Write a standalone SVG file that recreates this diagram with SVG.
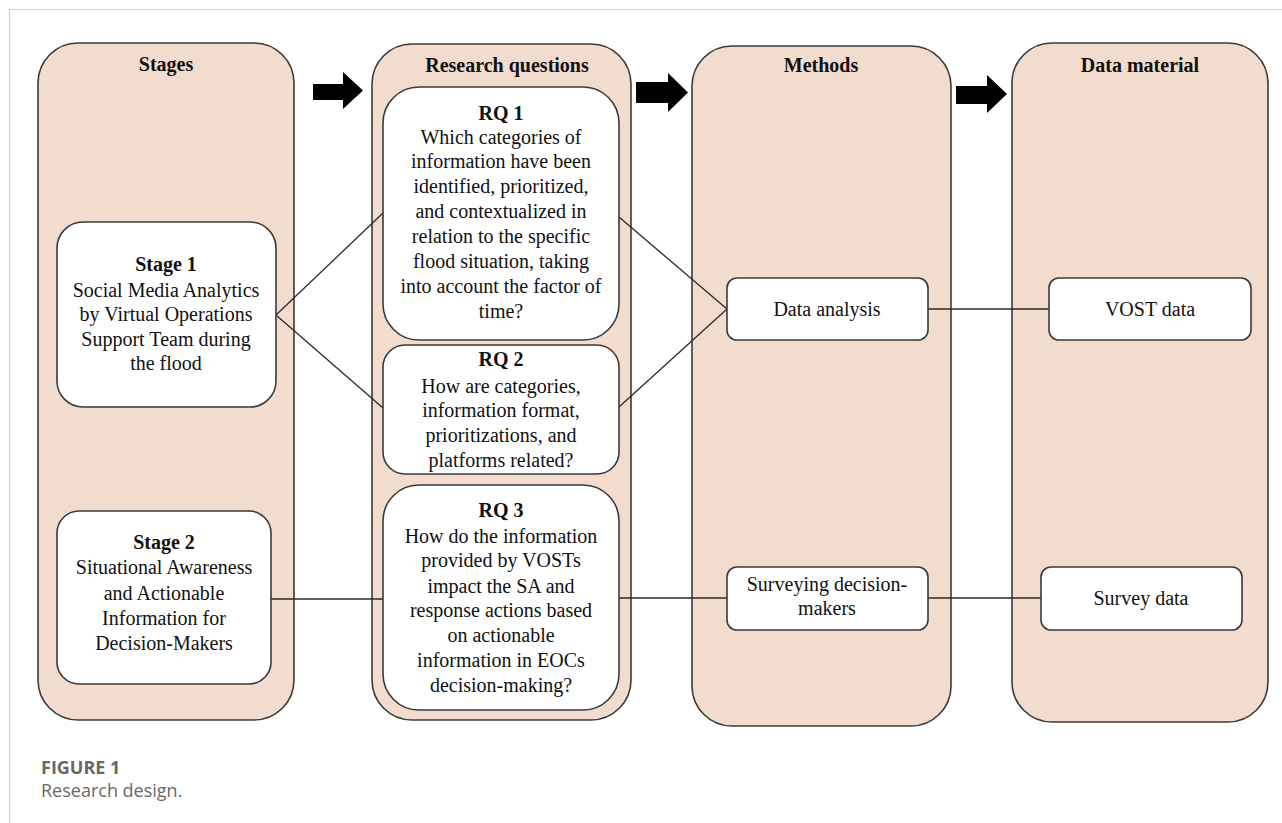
<svg xmlns="http://www.w3.org/2000/svg" width="1282" height="823" viewBox="0 0 1282 823">
  <style>
    .col { fill: #f1dccd; stroke: #3a3a3a; stroke-width: 1.6; }
    .box { fill: #ffffff; stroke: #3a3a3a; stroke-width: 1.6; }
    .link { stroke: #2a2a2a; stroke-width: 1.3; fill: none; }
    .arrow { fill: #000; }
    .t { font-family: 'Liberation Serif', 'Times New Roman', serif; font-size: 20px; fill: #111; text-anchor: middle; }
    .b { font-weight: bold; }
    .cap { font-family: 'Open Sans', sans-serif; font-size: 18px; fill: #686868; }
  </style>

  <rect width="1282" height="823" fill="#ffffff"/>
  <!-- frame -->
  <path d="M9.5 823 V9.5 H1282" fill="none" stroke="#d2d2d2" stroke-width="1.2"/>

  <!-- column panels -->
  <g id="col-stages">
    <rect class="col" x="38" y="43" width="256" height="677" rx="40"/>
    <text class="t b" x="166" y="71">Stages</text>
  </g>
  <g id="col-questions">
    <rect class="col" x="372" y="44" width="259" height="676" rx="40"/>
    <text class="t b" x="507" y="72">Research questions</text>
  </g>
  <g id="col-methods">
    <rect class="col" x="692" y="46" width="259" height="680" rx="40"/>
    <text class="t b" x="821" y="72">Methods</text>
  </g>
  <g id="col-data">
    <rect class="col" x="1012" y="43" width="256" height="679" rx="40"/>
    <text class="t b" x="1140" y="72">Data material</text>
  </g>

  <!-- block arrows between columns -->
  <g id="flow-arrows">
    <polygon class="arrow" points="313,84 343,84 343,72 363,90.5 343,109 343,100 313,100"/>
    <polygon class="arrow" points="636,82 668,82 668,73 688,92.5 668,112 668,103 636,103"/>
    <polygon class="arrow" points="956,86 987,86 987,75 1007,94 987,113 987,104 956,104"/>
  </g>

  <!-- connectors -->
  <g id="connectors">
    <line class="link" x1="276" y1="315" x2="383" y2="213"/>
    <line class="link" x1="276" y1="315" x2="383" y2="408"/>
    <line class="link" x1="619" y1="217" x2="727" y2="309"/>
    <line class="link" x1="619" y1="407" x2="727" y2="309"/>
    <line class="link" x1="928" y1="309" x2="1049" y2="309"/>
    <line class="link" x1="271" y1="599" x2="383" y2="599"/>
    <line class="link" x1="619" y1="598" x2="727" y2="598"/>
    <line class="link" x1="928" y1="598" x2="1041" y2="598"/>
  </g>

  <!-- stages -->
  <g id="stage1">
    <rect class="box" x="57" y="222" width="219" height="185" rx="26"/>
    <text class="t b" x="166" y="271">Stage 1</text>
    <text class="t" x="166" y="297">Social Media Analytics</text>
    <text class="t" x="166" y="321">by Virtual  Operations</text>
    <text class="t" x="166" y="346">Support Team  during</text>
    <text class="t" x="166" y="370">the flood</text>
  </g>
  <g id="stage2">
    <rect class="box" x="57" y="511" width="214" height="173" rx="22"/>
    <text class="t b" x="164" y="549">Stage 2</text>
    <text class="t" x="164" y="574">Situational  Awareness</text>
    <text class="t" x="164" y="600">and Actionable</text>
    <text class="t" x="164" y="625">Information  for</text>
    <text class="t" x="164" y="650">Decision-Makers</text>
  </g>

  <!-- research questions -->
  <g id="rq1">
    <rect class="box" x="383" y="87" width="236" height="253" rx="36"/>
    <text class="t b" x="501" y="120">RQ 1</text>
    <text class="t" x="501" y="144">Which  categories  of</text>
    <text class="t" x="501" y="168">information  have been</text>
    <text class="t" x="501" y="193">identified,  prioritized,</text>
    <text class="t" x="501" y="218">and contextualized  in</text>
    <text class="t" x="501" y="243">relation  to the specific</text>
    <text class="t" x="501" y="268">flood  situation,  taking</text>
    <text class="t" x="501" y="293">into account  the factor of</text>
    <text class="t" x="501" y="318">time?</text>
  </g>
  <g id="rq2">
    <rect class="box" x="383" y="345" width="236" height="129" rx="22"/>
    <text class="t b" x="501" y="366">RQ 2</text>
    <text class="t" x="501" y="393">How are categories,</text>
    <text class="t" x="501" y="417">information  format,</text>
    <text class="t" x="501" y="442">prioritizations,  and</text>
    <text class="t" x="501" y="467">platforms  related?</text>
  </g>
  <g id="rq3">
    <rect class="box" x="383" y="485" width="236" height="225" rx="36"/>
    <text class="t b" x="501" y="517">RQ 3</text>
    <text class="t" x="501" y="543">How do the information</text>
    <text class="t" x="501" y="567">provided by VOSTs</text>
    <text class="t" x="501" y="593">impact  the SA and</text>
    <text class="t" x="501" y="617">response  actions  based</text>
    <text class="t" x="501" y="642">on actionable</text>
    <text class="t" x="501" y="667">information  in EOCs</text>
    <text class="t" x="501" y="692">decision-making?</text>
  </g>

  <!-- methods -->
  <g id="data-analysis">
    <rect class="box" x="727" y="278" width="201" height="62" rx="10"/>
    <text class="t" x="827" y="316">Data analysis</text>
  </g>
  <g id="surveying">
    <rect class="box" x="727" y="567" width="201" height="63" rx="10"/>
    <text class="t" x="827" y="591">Surveying  decision-</text>
    <text class="t" x="827" y="615">makers</text>
  </g>

  <!-- data material -->
  <g id="vost-data">
    <rect class="box" x="1049" y="278" width="202" height="62" rx="10"/>
    <text class="t" x="1150" y="316">VOST data</text>
  </g>
  <g id="survey-data">
    <rect class="box" x="1041" y="567" width="201" height="63" rx="10"/>
    <text class="t" x="1141" y="605">Survey  data</text>
  </g>

  <!-- caption -->
  <text class="cap" x="41" y="774" font-weight="bold">FIGURE 1</text>
  <text class="cap" x="41" y="797">Research design.</text>
</svg>
